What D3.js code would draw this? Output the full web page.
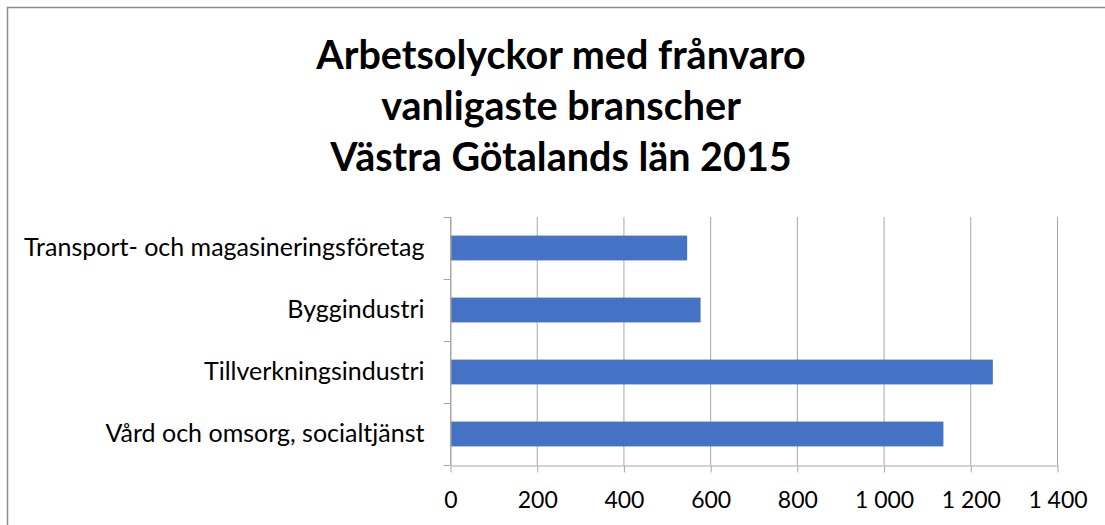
<!DOCTYPE html>
<html>
<head>
<meta charset="utf-8">
<script src="https://cdn.jsdelivr.net/npm/d3@7"></script>
<style>
  body { margin: 0; background: #fff; }
  svg { display: block; }
</style>
</head>
<body>
<div id="chart"></div>
<script>
const titleLines = [
  "Arbetsolyckor med frånvaro",
  "vanligaste branscher",
  "Västra Götalands län 2015",
];
const categories = [
  "Transport- och magasineringsföretag",
  "Byggindustri",
  "Tillverkningsindustri",
  "Vård och omsorg, socialtjänst",
];
const values = [547, 578, 1252, 1138];
const xTicks = [0, 200, 400, 600, 800, 1000, 1200, 1400];

const width = 1105, height = 525;
const margin = { top: 217, right: 48, bottom: 60, left: 450 };
const font = "Lato, 'Open Sans', sans-serif";
const gridColor = "#a6a6a6";

const svg = d3.select("#chart")
  .append("svg")
  .attr("width", width)
  .attr("height", height);

// chart frame
svg.append("rect")
  .attr("x", 7.5).attr("y", 7.5)
  .attr("width", width + 10).attr("height", height + 10)
  .attr("fill", "#fff")
  .attr("stroke", "#8c8c8c")
  .attr("stroke-width", 1.5);

const x = d3.scaleLinear()
  .domain([0, 1400])
  .range([margin.left, width - margin.right]);

const y = d3.scaleBand()
  .domain(categories)
  .range([margin.top, height - margin.bottom])
  .paddingInner(0.6)
  .paddingOuter(0.3);

const fmt = d3.formatLocale({
  decimal: ",", thousands: " ", grouping: [3], currency: ["", ""],
}).format(",");

// title
svg.append("g")
  .selectAll("text")
  .data(titleLines)
  .join("text")
  .attr("x", 561)
  .attr("y", (d, i) => 69 + i * 51)
  .attr("text-anchor", "middle")
  .attr("font-family", font)
  .attr("font-weight", "bold")
  .attr("font-size", 39.5)
  .attr("fill", "#000")
  .text(d => d);

// vertical gridlines
svg.append("g")
  .selectAll("line")
  .data(xTicks)
  .join("line")
  .attr("x1", d => x(d) + 0.5)
  .attr("x2", d => x(d) + 0.5)
  .attr("y1", margin.top)
  .attr("y2", height - margin.bottom)
  .attr("stroke", gridColor)
  .attr("stroke-width", 1);

// bars
svg.append("g")
  .selectAll("rect")
  .data(categories)
  .join("rect")
  .attr("x", x(0) + 1)
  .attr("y", d => y(d))
  .attr("width", (d, i) => x(values[i]) - x(0) - 1)
  .attr("height", y.bandwidth())
  .attr("fill", "#4472c4");

// x axis
const xAxis = svg.append("g")
  .attr("transform", `translate(0.5,${height - margin.bottom + 0.5})`)
  .call(d3.axisBottom(x).tickValues(xTicks).tickFormat(fmt).tickSize(7).tickSizeOuter(0));
xAxis.select(".domain").attr("stroke", gridColor);
xAxis.selectAll(".tick line").attr("stroke", gridColor);
xAxis.selectAll(".tick text")
  .attr("y", 26)
  .attr("font-family", font)
  .attr("font-size", 23)
  .attr("fill", "#000");

// y axis: labels at band centres, ticks at band boundaries
const yAxis = svg.append("g")
  .attr("transform", `translate(${margin.left + 0.5},0)`)
  .call(d3.axisLeft(y).tickSize(0).tickPadding(26));
yAxis.select(".domain").attr("stroke", gridColor);
yAxis.selectAll(".tick text")
  .attr("font-family", font)
  .attr("font-size", 25)
  .attr("fill", "#000");

const half = (y.step() - y.bandwidth()) / 2;
const bounds = categories.map(c => y(c) - half).concat([y(categories[3]) + y.bandwidth() + half]);
yAxis.append("g")
  .selectAll("line")
  .data(bounds)
  .join("line")
  .attr("x1", -7).attr("x2", 0)
  .attr("y1", d => Math.round(d) + 0.5)
  .attr("y2", d => Math.round(d) + 0.5)
  .attr("stroke", gridColor);
</script>
</body>
</html>
